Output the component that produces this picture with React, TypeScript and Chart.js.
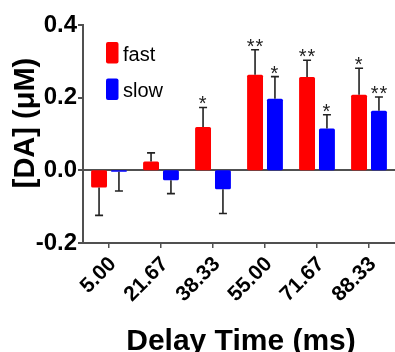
import React, { useEffect, useRef } from "react";
import { Chart, registerables } from "chart.js";

Chart.register(...registerables);

const categories = ["5.00", "21.67", "38.33", "55.00", "71.67", "88.33"];
const fastValues = [-0.047, 0.024, 0.119, 0.263, 0.257, 0.208];
const slowValues = [-0.004, -0.027, -0.052, 0.197, 0.115, 0.164];
const fastErrors = [0.077, 0.024, 0.054, 0.069, 0.046, 0.073];
const slowErrors = [0.053, 0.037, 0.067, 0.061, 0.038, 0.038];
const fastStars = ["", "", "*", "**", "**", "*"];
const slowStars = ["", "", "", "*", "*", "**"];
const seriesNames = ["fast", "slow"];
const yMin = -0.2;
const yMax = 0.4;
const yStep = 0.2;
const xTitle = "Delay Time (ms)";
const yTitle = "[DA] (μM)";

const FONT = "'Liberation Sans', Arial, sans-serif";
const RED = "#ff0000";
const BLUE = "#0000ff";
const AXIS = "#505050";
const INK = "#222222";

const overlayPlugin = {
  id: "overlay",
  afterDatasetsDraw(chart: any) {
    const ctx = chart.ctx;
    const y = chart.scales.y;
    const errs = [fastErrors, slowErrors];
    const stars = [fastStars, slowStars];
    ctx.save();
    chart.data.datasets.forEach((ds: any, i: number) => {
      const meta = chart.getDatasetMeta(i);
      meta.data.forEach((bar: any, j: number) => {
        const v = ds.data[j];
        const e = errs[i][j];
        const end = v + (v >= 0 ? e : -e);
        const y0 = y.getPixelForValue(v);
        const y1 = y.getPixelForValue(end);
        ctx.strokeStyle = INK;
        ctx.lineWidth = 1.6;
        ctx.beginPath();
        ctx.moveTo(bar.x, y0);
        ctx.lineTo(bar.x, y1);
        ctx.moveTo(bar.x - 4, y1);
        ctx.lineTo(bar.x + 4, y1);
        ctx.stroke();
        const s = stars[i][j];
        if (s) {
          ctx.fillStyle = INK;
          ctx.font = `20px ${FONT}`;
          ctx.textAlign = "center";
          ctx.textBaseline = "alphabetic";
          try { (ctx as any).letterSpacing = "1px"; } catch (err) {}
          ctx.fillText(s, bar.x + (s.length > 1 ? 0.5 : 0), y1 + 3);
          try { (ctx as any).letterSpacing = "0px"; } catch (err) {}
        }
      });
    });
    ctx.restore();
  },
  afterDraw(chart: any) {
    const ctx = chart.ctx;
    ctx.save();
    // legend
    const colors = [RED, BLUE];
    const boxTops = [42, 78.5];
    const baselines = [60.5, 96.5];
    seriesNames.forEach((name, i) => {
      ctx.fillStyle = colors[i];
      ctx.beginPath();
      (ctx as any).roundRect(106, boxTops[i], 12.5, 21.5, 2);
      ctx.fill();
      ctx.fillStyle = "#000";
      ctx.font = `20px ${FONT}`;
      ctx.textAlign = "left";
      ctx.textBaseline = "alphabetic";
      ctx.fillText(name, 123, baselines[i]);
    });
    // x title
    ctx.fillStyle = "#000";
    ctx.font = `bold 30px ${FONT}`;
    ctx.textAlign = "center";
    ctx.textBaseline = "alphabetic";
    ctx.fillText(xTitle, 241, 350);
    // y title
    ctx.translate(34, 123);
    ctx.rotate(-Math.PI / 2);
    ctx.font = `bold 29px ${FONT}`;
    ctx.textAlign = "center";
    ctx.fillText(yTitle, 0, 0);
    ctx.restore();
  },
};

export default function App() {
  const ref = useRef<HTMLCanvasElement | null>(null);
  useEffect(() => {
    if (!ref.current) return;
    const chart = new Chart(ref.current, {
      type: "bar",
      data: {
        labels: categories,
        datasets: [
          {
            label: seriesNames[0],
            data: fastValues,
            backgroundColor: RED,
            borderRadius: 1.5,
            borderSkipped: false,
            categoryPercentage: 0.765,
            barPercentage: 0.8,
          },
          {
            label: seriesNames[1],
            data: slowValues,
            backgroundColor: BLUE,
            borderRadius: 1.5,
            borderSkipped: false,
            categoryPercentage: 0.765,
            barPercentage: 0.8,
          },
        ],
      },
      options: {
        responsive: false,
        animation: false,
        devicePixelRatio: 1,
        layout: { padding: { top: 25, left: 0, right: 0, bottom: 0 } },
        plugins: {
          legend: { display: false },
          tooltip: { enabled: false },
          title: { display: false },
        },
        scales: {
          x: {
            offset: true,
            grid: {
              offset: false,
              drawOnChartArea: false,
              drawTicks: true,
              tickLength: 5,
              tickColor: AXIS,
              lineWidth: 1.5,
            },
            border: { display: true, color: AXIS, width: 2 },
            ticks: {
              minRotation: 45,
              maxRotation: 45,
              color: "#000",
              padding: 4,
              labelOffset: 4,
              font: { family: FONT, size: 21, weight: "bold" },
            },
            afterFit(scale: any) {
              scale.height = 109;
            },
          },
          y: {
            min: yMin,
            max: yMax,
            grid: {
              drawOnChartArea: true,
              color: (c: any) => (c.tick && Math.abs(c.tick.value) < 1e-9 ? AXIS : "rgba(0,0,0,0)"),
              lineWidth: 2,
              tickLength: 5,
              tickColor: AXIS,
            },
            border: { display: true, color: AXIS, width: 2 },
            ticks: {
              stepSize: yStep,
              color: "#000",
              padding: 1,
              font: { family: FONT, size: 24, weight: "bold" },
              callback: (v: any) => Number(v).toFixed(1),
            },
            afterFit(scale: any) {
              scale.width = 83;
            },
          },
        },
      },
      plugins: [overlayPlugin],
    });
    return () => chart.destroy();
  }, []);
  return (
    <div style={{ position: "fixed", left: 0, top: 0, width: 395, height: 352, background: "#fff" }}>
      <canvas ref={ref} width={395} height={352} />
    </div>
  );
}
